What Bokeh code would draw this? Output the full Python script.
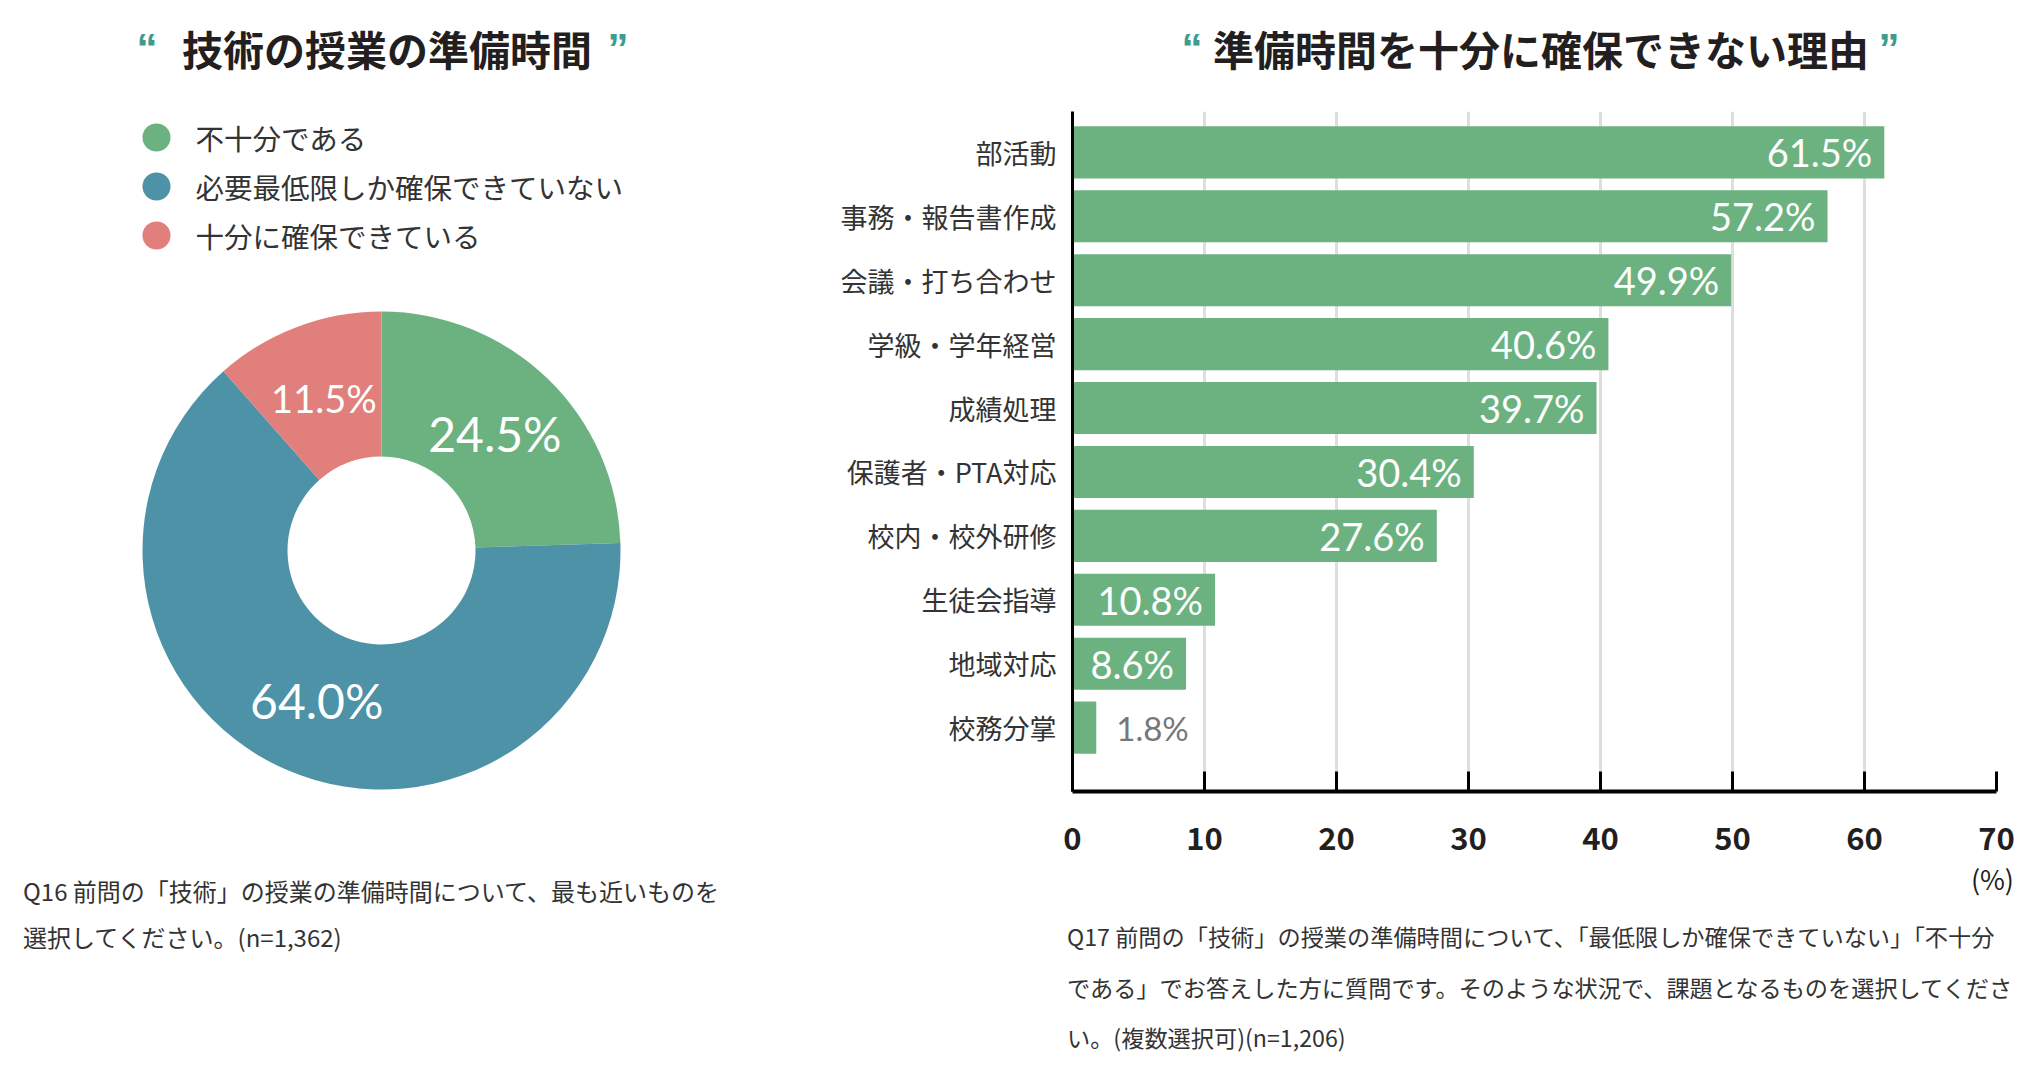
import math
from bokeh.plotting import figure
from bokeh.layouts import row, column
from bokeh.models import Range1d, FixedTicker, Div
from bokeh.core.properties import value
from bokeh.embed import file_html
from bokeh.resources import INLINE

# ---------------- data ----------------
pie_labels = ["不十分である", "必要最低限しか確保できていない", "十分に確保できている"]
pie_values = [24.5, 64.0, 11.5]
pie_colors = ["#6cb280", "#4d92a6", "#e07f7c"]

bar_categories = ["部活動", "事務・報告書作成", "会議・打ち合わせ", "学級・学年経営", "成績処理",
                  "保護者・PTA対応", "校内・校外研修", "生徒会指導", "地域対応", "校務分掌"]
bar_values = [61.5, 57.2, 49.9, 40.6, 39.7, 30.4, 27.6, 10.8, 8.6, 1.8]
x_ticks = [0, 10, 20, 30, 40, 50, 60, 70]

left_title = "技術の授業の準備時間"
right_title = "準備時間を十分に確保できない理由"
left_note = ["Q16 前問の「技術」の授業の準備時間について、最も近いものを",
             "選択してください。(n=1,362)"]
right_note = ["Q17 前問の「技術」の授業の準備時間について、「最低限しか確保できていない」「不十分",
              "である」でお答えした方に質問です。そのような状況で、課題となるものを選択してくださ",
              "い。(複数選択可)(n=1,206)"]
unit_label = "(%)"

# ---------------- styles ----------------
JP = "Noto Sans CJK JP"
NUM = "Lato"
TITLE_C = "#231f20"
TEXT_C = "#333333"
QUOTE_C = "#3d9c8f"
BAR_C = "#6cb280"

LW, RW = 800, 1230          # widths of left / right columns
TOP_H = 100                 # title row height
FIG_H = 766                 # figure row height
NOTE_H = 195                # note row height
FRAME_TOP, FRAME_BOT = 111, 791   # frame in page px
MB_TOP = FRAME_TOP - TOP_H
MB_BOT = TOP_H + FIG_H - FRAME_BOT


def span(x, y, text, style, anchor="center"):
    tx = {"center": "-50%", "left": "0", "right": "-100%"}[anchor]
    return (f'<span style="position:absolute;left:{x}px;top:{y}px;'
            f'transform:translate({tx},-50%);white-space:nowrap;line-height:1;{style}">{text}</span>')


def box(width, height, spans):
    html = (f'<div style="position:relative;width:{width}px;height:{height}px;overflow:visible;">'
            + "".join(spans) + "</div>")
    return Div(text=html, width=width, height=height, margin=0)


title_style = f"font-family:'{JP}';font-weight:bold;font-size:41px;color:{TITLE_C};"
quote_style = f"font-family:'Liberation Sans';font-weight:bold;font-size:42px;color:{QUOTE_C};"
lnote_style = f"font-family:'{JP}';font-size:24px;color:{TEXT_C};"
rnote_style = f"font-family:'{JP}';font-size:23.2px;color:{TEXT_C};"
unit_style = f"font-family:'{JP}';font-size:27px;color:{TITLE_C};"

# title row
left_title_div = box(LW, TOP_H, [span(147, 49, "“", quote_style),
                                 span(387, 48, left_title, title_style),
                                 span(618, 49, "”", quote_style)])
right_title_div = box(RW, TOP_H, [span(1192 - LW, 49, "“", quote_style),
                                  span(1541 - LW, 48, right_title, title_style),
                                  span(1889 - LW, 49, "”", quote_style)])

# note row
note_top = TOP_H + FIG_H
left_note_div = box(LW, NOTE_H, [span(23, 891 - note_top + 46 * k, t, lnote_style, "left")
                                 for k, t in enumerate(left_note)])
right_spans = [span(2014 - LW, 878 - note_top, unit_label, unit_style, "right")]
right_spans += [span(1067 - LW, 937 - note_top + 50.5 * k, t, rnote_style, "left")
                for k, t in enumerate(right_note)]
right_note_div = box(RW, NOTE_H, right_spans)

# ---------------- left figure (legend + donut) ----------------
left = figure(width=LW, height=FIG_H,
              x_range=Range1d(0, LW), y_range=Range1d(1073 - FRAME_BOT, 1073 - FRAME_TOP),
              x_axis_type=None, y_axis_type=None,
              min_border_left=0, min_border_right=0,
              min_border_top=MB_TOP, min_border_bottom=MB_BOT,
              output_backend="svg", toolbar_location=None)
left.grid.visible = False
left.outline_line_color = None


def ly(sy):  # page y -> data y
    return 1073 - sy


# legend
leg_y = [ly(137 + 49 * i) for i in range(len(pie_labels))]
left.scatter(x=[156] * len(pie_labels), y=leg_y, size=28, marker="circle",
             fill_color=pie_colors, line_color=None)
left.text(x=[195] * len(pie_labels), y=leg_y, text=pie_labels, text_font=value(JP),
          text_font_size="28.5px", text_color=TEXT_C, text_align="left", text_baseline="middle")

# donut
cx, cy = 381, ly(550)
r_in, r_out = 94, 239
starts, ends, mids = [], [], []
cum = 0.0
total = sum(pie_values)
for v in pie_values:
    a0 = 90 - cum / total * 360
    cum += v
    a1 = 90 - cum / total * 360
    starts.append(math.radians(a0))
    ends.append(math.radians(a1))
    mids.append(math.radians((a0 + a1) / 2))
left.annular_wedge(x=cx, y=cy, inner_radius=r_in, outer_radius=r_out,
                   start_angle=starts, end_angle=ends, direction="clock",
                   fill_color=pie_colors, line_color=None)
r_lab = 163
left.text(x=[cx + r_lab * math.cos(m) for m in mids], y=[cy + r_lab * math.sin(m) for m in mids],
          text=[f"{v:.1f}%" for v in pie_values], text_font=value(NUM),
          text_font_size=["48px", "48px", "38px"], text_color="white",
          text_align="center", text_baseline="middle")

# ---------------- right figure (bars) ----------------
fx0, fx1 = 1072, 1996
y_top, y_bot = -0.64, 10.0

right = figure(width=RW, height=FIG_H, x_range=Range1d(0, 70), y_range=Range1d(y_bot, y_top),
               min_border_left=fx0 - LW, min_border_right=(LW + RW) - fx1,
               min_border_top=MB_TOP, min_border_bottom=MB_BOT,
               output_backend="svg", toolbar_location=None)
right.outline_line_color = None
right.ygrid.visible = False
right.xgrid.ticker = FixedTicker(ticks=x_ticks)
right.xgrid.grid_line_color = "#dedede"
right.xgrid.grid_line_width = 3

xa = right.xaxis[0]
xa.ticker = FixedTicker(ticks=x_ticks)
xa.axis_line_color = "black"
xa.axis_line_width = 4
xa.major_tick_in = 20
xa.major_tick_out = 0
xa.major_tick_line_width = 3
xa.major_tick_line_color = "black"
xa.minor_tick_line_color = None
xa.major_label_standoff = 35
xa.major_label_text_font = JP
xa.major_label_text_font_style = "bold"
xa.major_label_text_font_size = "31px"
xa.major_label_text_color = TITLE_C

ya = right.yaxis[0]
idx = list(range(len(bar_categories)))
ya.ticker = FixedTicker(ticks=idx)
ya.major_label_overrides = {i: c for i, c in zip(idx, bar_categories)}
ya.axis_line_color = "black"
ya.axis_line_width = 3
ya.major_tick_in = 0
ya.major_tick_out = 0
ya.minor_tick_line_color = None
ya.major_label_standoff = 16
ya.major_label_text_font = JP
ya.major_label_text_font_size = "27px"
ya.major_label_text_color = TEXT_C

right.hbar(y=idx, left=0, right=bar_values, height=0.815, fill_color=BAR_C, line_color=None)

inside = [(i, v) for i, v in zip(idx, bar_values) if v >= 5]
outside = [(i, v) for i, v in zip(idx, bar_values) if v < 5]
right.text(x=[v for _, v in inside], y=[i for i, _ in inside], text=[f"{v:.1f}%" for _, v in inside],
           x_offset=-12, text_font=value(NUM), text_font_size="38px", text_color="white",
           text_align="right", text_baseline="middle")
right.text(x=[v for _, v in outside], y=[i for i, _ in outside], text=[f"{v:.1f}%" for _, v in outside],
           x_offset=20, text_font=value(NUM), text_font_size="33px", text_color="#777777",
           text_align="left", text_baseline="middle")

layout = column(row(left_title_div, right_title_div),
                row(left, right),
                row(left_note_div, right_note_div))
open("out.html", "w").write(file_html(layout, INLINE))
